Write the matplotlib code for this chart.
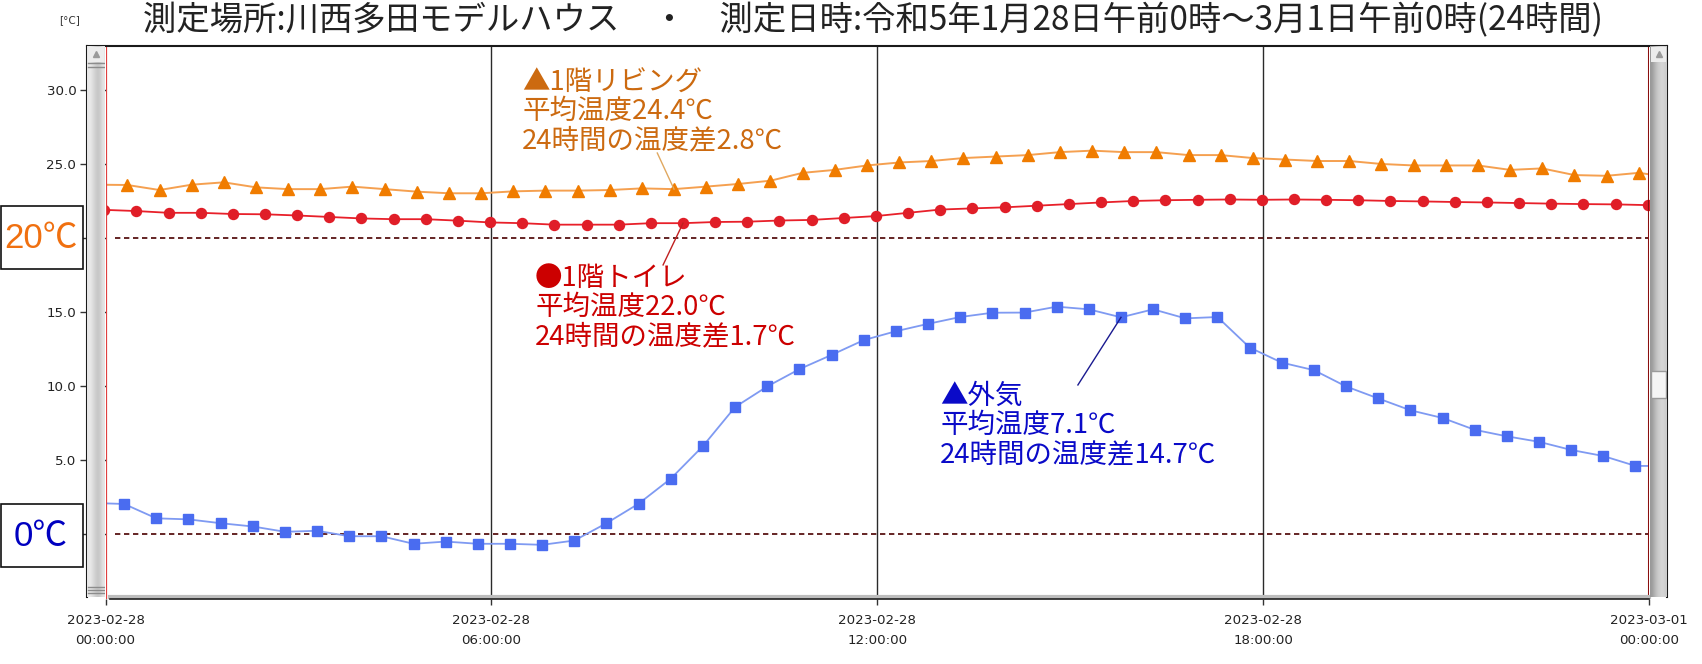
import numpy as np
import matplotlib
matplotlib.use("Agg")
import matplotlib.pyplot as plt
from matplotlib.patches import Rectangle
from matplotlib.lines import Line2D

# ---------------- data ----------------
title = "測定場所:川西多田モデルハウス　・　測定日時:令和5年1月28日午前0時～3月1日午前0時(24時間)"
xtick_hours = [0, 6, 12, 18, 24]
xtick_labels = ["2023-02-28\n00:00:00", "2023-02-28\n06:00:00", "2023-02-28\n12:00:00",
                "2023-02-28\n18:00:00", "2023-03-01\n00:00:00"]
ytick_values = [0, 5, 10, 15, 20, 25, 30]

# sample times (hours from 2023-02-28 00:00), 30-minute logging
t_living = np.arange(48) * 0.5 + 0.34
t_toilet = np.arange(49) * 0.5 - 0.02
t_outside = np.arange(48) * 0.5 + 0.29

living = [23.58, 23.24, 23.6, 23.76, 23.42, 23.3, 23.3, 23.47, 23.3, 23.13,
          23.02, 23.02, 23.15, 23.2, 23.2, 23.24, 23.35, 23.3, 23.47, 23.65,
          23.87, 24.4, 24.6, 24.9, 25.1, 25.2, 25.4, 25.5, 25.6, 25.8,
          25.9, 25.8, 25.8, 25.6, 25.6, 25.4, 25.3, 25.2, 25.2, 25.0,
          24.9, 24.9, 24.9, 24.6, 24.7, 24.25, 24.2, 24.4]
toilet = [21.9, 21.82, 21.7, 21.7, 21.62, 21.6, 21.52, 21.42, 21.32, 21.27,
          21.27, 21.17, 21.05, 21.0, 20.9, 20.9, 20.9, 21.0, 21.0, 21.08,
          21.1, 21.18, 21.22, 21.35, 21.48, 21.7, 21.92, 22.0, 22.07, 22.18,
          22.29, 22.4, 22.5, 22.55, 22.58, 22.6, 22.58, 22.6, 22.58, 22.55,
          22.5, 22.47, 22.43, 22.4, 22.36, 22.32, 22.29, 22.27, 22.22]
outside = [2.03, 1.06, 0.99, 0.73, 0.51, 0.15, 0.22, -0.15, -0.15, -0.66,
           -0.51, -0.66, -0.66, -0.73, -0.44, 0.73, 2.05, 3.74, 5.94, 8.58,
           9.97, 11.14, 12.1, 13.1, 13.7, 14.2, 14.66, 14.95, 14.96, 15.36,
           15.18, 14.64, 15.18, 14.57, 14.66, 12.6, 11.58, 11.07, 9.97, 9.16,
           8.36, 7.84, 7.04, 6.6, 6.23, 5.68, 5.27, 4.6]
# values where the logged lines leave the visible window (previous / next sample)
living_edges = (23.6, 24.1)
outside_edges = (2.1, 4.6)

ref_levels = [20, 0]

living_text = "▲1階リビング\n平均温度24.4℃\n24時間の温度差2.8℃"
toilet_text = "●1階トイレ\n平均温度22.0℃\n24時間の温度差1.7℃"
outside_text = "▲外気\n平均温度7.1℃\n24時間の温度差14.7℃"

# ---------------- figure ----------------
W, H = 1702, 664
fig = plt.figure(figsize=(W / 100, H / 100), dpi=100)
fig.patch.set_facecolor("white")
CJK = ["Noto Sans CJK JP", "DejaVu Sans"]

def fx(x):
    return x / W

def fy(y):
    return 1 - y / H

ax_l, ax_r, ax_t, ax_b = 105.5, 1649.0, 46.0, 599.0
ax = fig.add_axes([fx(ax_l), fy(ax_b), (ax_r - ax_l) / W, (ax_b - ax_t) / H])
ax.set_xlim(0, 24)
ax.set_ylim(-4.39, 32.97)
ax.set_facecolor("white")

# reference dashed lines
for lv in ref_levels:
    ax.plot([0.15, 24], [lv, lv], color="#4a0000", lw=1.2, dashes=(3.2, 2.2), zorder=2)

# vertical grid lines
for h in xtick_hours[1:-1]:
    ax.axvline(h, color="#2a2a2a", lw=1.0, zorder=1)

# series lines (include edge samples for the line only)
t_liv_line = np.concatenate([[t_living[0] - 0.5], t_living, [t_living[-1] + 0.5]])
liv_line = np.concatenate([[living_edges[0]], living, [living_edges[1]]])
ax.plot(t_liv_line, liv_line, color="#f5a050", lw=1.4, zorder=3)
ax.plot(t_living, living, ls="none", marker="^", ms=8.5, color="#f07c00", mec="#f07c00", zorder=4)

ax.plot(t_toilet, toilet, color="#e8202a", lw=1.3, zorder=3)
ax.plot(t_toilet, toilet, ls="none", marker="o", ms=7.2, color="#e01e28", zorder=4)

t_out_line = np.concatenate([[t_outside[0] - 0.5], t_outside, [t_outside[-1] + 0.5]])
out_line = np.concatenate([[outside_edges[0]], outside, [outside_edges[1]]])
ax.plot(t_out_line, out_line, color="#7f9af2", lw=1.3, zorder=3)
ax.plot(t_outside, outside, ls="none", marker="s", ms=7.2, color="#4a6cf0", mec="#4a6cf0", zorder=4)

# spines
for s in ["top", "right", "left", "bottom"]:
    ax.spines[s].set_visible(False)
ax.axvline(0, color="#e04040", lw=1.6, zorder=5)
ax.axvline(24, color="#8a0f0f", lw=2.2, zorder=5)
ax.plot([0.003, 1], [0.004, 0.004], transform=ax.transAxes, color="#bdbdbd", lw=3, zorder=5, clip_on=False)
ax.plot([0.003, 1], [0, 0], transform=ax.transAxes, color="#222222", lw=1.2, zorder=5, clip_on=False)

# ticks
ax.set_xticks(xtick_hours)
ax.set_xticklabels(xtick_labels, fontsize=9.6, color="#222222", linespacing=1.65, family="DejaVu Sans")
ax.tick_params(axis="x", length=4, width=1, color="#333333", pad=7, direction="out")
ax.set_yticks(ytick_values)
# labels at 0 and 20 are hidden behind the level boxes in the original
ax.set_yticklabels(["" if v in ref_levels else f"{v:.1f}" for v in ytick_values],
                   fontsize=9.6, color="#222222", family="DejaVu Sans")
ax.tick_params(axis="y", length=18.5, width=1, color="#333333", pad=2.5, direction="out")

# annotations
def annotate(text, color, xt, yt):
    ax.text(xt, yt, text, color=color, fontsize=19.8, family=CJK, va="top", ha="left",
            linespacing=1.1, zorder=6)

annotate(living_text, "#cc6a10", 6.48, 31.4)
annotate(toilet_text, "#cc0000", 6.68, 18.2)
annotate(outside_text, "#0a0ac8", 12.98, 10.2)

ax.plot([8.58, t_living[17]], [25.74, living[17]], color="#e0a860", lw=1.0, zorder=5)
ax.plot([8.67, t_toilet[18]], [18.18, toilet[18]], color="#c02020", lw=1.0, zorder=5)
ax.plot([15.12, t_outside[31]], [10.07, outside[31]], color="#1a1a90", lw=1.0, zorder=5)

# ---------------- scrollbars / frame ----------------
def scrollbar(x0, x1, grad, thumb=None, grips=()):
    sa = fig.add_axes([fx(x0), fy(597), (x1 - x0) / W, (597 - 46) / H], zorder=3)
    sa.set_axis_off()
    sa.imshow(np.array([grad]), cmap="gray", vmin=0, vmax=1, aspect="auto",
              extent=[0, 1, 0, 1], interpolation="bicubic")
    sa.set_xlim(0, 1)
    sa.set_ylim(0, 1)
    sa.add_patch(Rectangle((0.05, 1 - 16 / 551), 0.9, 15 / 551, facecolor="#ececec", edgecolor="none"))
    sa.plot([0.5], [1 - 8 / 551], marker="^", ms=5, color="#9a9a9a")
    for gy in grips:
        sa.plot([0.05, 0.95], [gy, gy], color="#8c8c8c", lw=1)
    if thumb:
        sa.add_patch(Rectangle((0.05, thumb[0]), 0.9, thumb[1] - thumb[0], facecolor="#f4f4f4", edgecolor="#9a9a9a", lw=1))
    return sa

scrollbar(87, 105, [0.9, 0.92, 0.88, 0.84, 0.8, 0.78, 0.8, 0.86, 0.9],
          grips=(1 - 17 / 551, 1 - 21 / 551, 10 / 551, 7 / 551, 4 / 551))
scrollbar(1650, 1667, [0.6, 0.64, 0.7, 0.76, 0.8, 0.82, 0.84, 0.82, 0.8],
          thumb=((597 - 398) / 551, (597 - 371) / 551))

for (xa, ya, xb, yb) in [(87, 46, 1667, 46), (87, 46, 87, 597), (1667, 46, 1667, 597)]:
    fig.add_artist(Line2D([fx(xa), fx(xb)], [fy(ya), fy(yb)], color="#1a1a1a", lw=1.5))

# title and unit
fig.text(fx(873), fy(21), title, fontsize=24, family=CJK, color="#222222", ha="center", va="center")
fig.text(fx(70), fy(20), "[°C]", fontsize=7.5, family="DejaVu Sans", color="#333333", ha="center", va="center")

# left level boxes
for (y0, y1, label, col) in [(206, 269, "20℃", "#f07010"), (504, 567, "0℃", "#0000c0")]:
    fig.add_artist(Rectangle((fx(0.5), fy(y1)), fx(82), (y1 - y0) / H, transform=fig.transFigure,
                             facecolor="white", edgecolor="#111111", lw=1.2, zorder=4))
    fig.text(fx(41), fy((y0 + y1) / 2 + 1), label, fontsize=25, family=["Liberation Sans", "Noto Sans CJK JP"],
             color=col, ha="center", va="center", zorder=5)

fig.savefig("out.png", dpi=100)
